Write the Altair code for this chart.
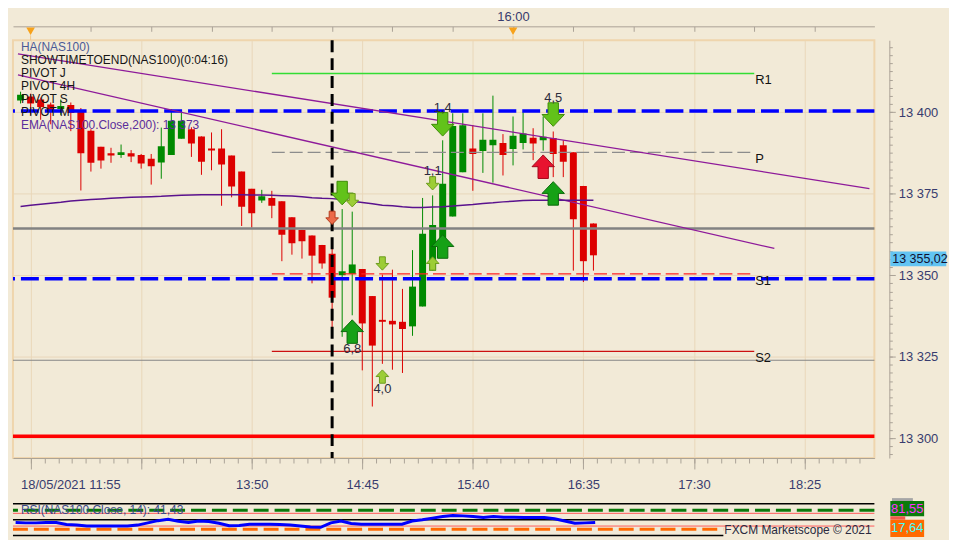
import altair as alt
import pandas as pd

# ---------------- values ----------------
candle_times = ["11:55", "12:00", "12:05", "12:10", "12:15", "12:20", "12:25", "12:30", "12:35", "12:40",
                "12:45", "12:50", "12:55", "13:00", "13:05", "13:10", "13:15", "13:20", "13:25", "13:30",
                "13:35", "13:40", "13:45", "13:50", "13:55", "14:00", "14:05", "14:10", "14:15", "14:20",
                "14:25", "14:30", "14:35", "14:40", "14:45", "14:50", "14:55", "15:00", "15:05", "15:10",
                "15:15", "15:20", "15:25", "15:30", "15:35", "15:40", "15:45", "15:50", "15:55", "16:00",
                "16:05", "16:10", "16:15", "16:20", "16:25", "16:30", "16:35", "16:40"]
ha_open = [13403.6, 13404.8, 13403.9, 13402.4, 13401.0, 13402.2, 13400.7, 13394.3, 13389.4, 13387.4,
           13386.9, 13387.4, 13386.9, 13385.7, 13384.6, 13386.9, 13391.9, 13394.8, 13392.6, 13388.9,
           13388.9, 13386.7, 13381.8, 13376.5, 13372.9, 13373.7, 13372.7, 13367.8, 13363.9, 13362.2,
           13359.3, 13356.6, 13350.0, 13350.4, 13351.9, 13343.6, 13336.3, 13336.0, 13335.7, 13334.3,
           13340.4, 13351.4, 13355.6, 13368.0, 13381.6, 13388.9, 13388.1, 13389.9, 13390.6, 13388.7,
           13390.6, 13392.2, 13391.4, 13392.1, 13389.9, 13387.7, 13377.4, 13365.9]
ha_high = [13406.3, 13405.7, 13404.5, 13403.0, 13403.9, 13403.0, 13401.3, 13394.8, 13389.4, 13389.1,
           13390.1, 13388.4, 13387.2, 13387.2, 13395.3, 13401.0, 13399.8, 13395.4, 13392.6, 13393.8,
           13394.8, 13386.7, 13381.8, 13376.5, 13376.2, 13375.9, 13372.7, 13367.8, 13363.9, 13362.2,
           13359.3, 13360.1, 13370.3, 13369.5, 13351.9, 13343.6, 13350.2, 13351.7, 13345.8, 13357.7,
           13373.7, 13374.5, 13391.4, 13399.7, 13399.7, 13396.1, 13399.7, 13405.1, 13393.3, 13398.7,
           13400.0, 13395.1, 13398.7, 13394.1, 13391.4, 13387.7, 13377.4, 13365.9]
ha_low = [13402.7, 13399.2, 13397.7, 13396.3, 13399.2, 13394.2, 13376.0, 13381.8, 13382.7, 13384.5,
          13386.0, 13384.7, 13382.7, 13377.8, 13379.6, 13386.9, 13391.9, 13386.3, 13380.8, 13382.2,
          13371.3, 13373.9, 13365.1, 13364.6, 13372.2, 13367.5, 13354.3, 13356.3, 13355.1, 13347.5,
          13352.0, 13331.6, 13331.1, 13337.7, 13320.8, 13309.7, 13322.8, 13321.0, 13320.0, 13331.4,
          13340.4, 13351.4, 13355.6, 13368.0, 13381.6, 13375.9, 13381.4, 13378.4, 13380.6, 13383.7,
          13388.6, 13385.3, 13388.2, 13380.1, 13380.1, 13351.4, 13347.9, 13351.4]
ha_close = [13405.4, 13402.7, 13401.6, 13400.1, 13401.9, 13399.8, 13387.4, 13384.5, 13385.2, 13386.7,
            13387.7, 13386.4, 13384.3, 13383.4, 13389.6, 13397.4, 13397.4, 13390.4, 13384.8, 13388.3,
            13384.0, 13377.2, 13371.0, 13369.0, 13374.2, 13371.3, 13362.4, 13359.8, 13360.4, 13356.0,
            13353.6, 13343.1, 13351.2, 13353.3, 13335.2, 13328.4, 13335.7, 13334.9, 13333.5, 13346.5,
            13362.7, 13365.4, 13378.1, 13395.8, 13396.0, 13387.2, 13391.6, 13391.6, 13386.9, 13392.8,
            13393.5, 13390.4, 13392.5, 13387.2, 13384.8, 13367.2, 13354.3, 13356.1]
ema_200 = [13371.1, 13371.5, 13371.8, 13372.1, 13372.4, 13372.8, 13373.0, 13373.2, 13373.4, 13373.6,
           13373.8, 13373.9, 13374.0, 13374.1, 13374.2, 13374.4, 13374.5, 13374.6, 13374.7, 13374.7,
           13374.7, 13374.7, 13374.7, 13374.6, 13374.6, 13374.5, 13374.4, 13374.3, 13374.1, 13373.8,
           13373.6, 13373.5, 13373.2, 13372.7, 13372.3, 13371.9, 13371.5, 13371.3, 13371.0, 13370.8,
           13370.8, 13370.9, 13371.0, 13371.2, 13371.5, 13371.7, 13372.0, 13372.2, 13372.5, 13372.7,
           13372.9, 13373.0, 13373.0, 13373.0, 13373.0, 13373.0, 13373.0, 13373.0]
rsi_14 = [41, 40, 40, 41, 41, 35, 33, 30, 30, 30,
          30, 30, 33, 40, 47, 51, 45, 41, 46, 44,
          39, 31, 32, 36, 36, 36, 35, 33, 30, 27,
          26, 40, 46, 38, 36, 36, 36, 36, 36, 46,
          50, 55, 60, 63, 62, 60, 57, 60, 58, 58,
          57, 57, 57, 53, 46, 39, 40, 41.43]

blue_level_prices = [13400.4, 13348.9]
grey_thick_prices = [13364.3]
grey_thin_prices = [13323.9]
red_thick_prices = [13300.6]

pivot_names = ["R1", "P", "S1", "S2"]
pivot_prices = [13411.9, 13387.7, 13350.4, 13326.6]
pivot_span = ["14:00", "18:00"]

session_line_times = ["14:30"]
session_marker_times = ["12:00", "16:00"]

trend_a_times = ["11:53:42", "18:57:18"]
trend_a_prices = [13417.9, 13376.6]
trend_b_times = ["11:53:42", "18:10"]
trend_b_prices = [13411.5, 13358.2]

arrow_times = ["14:35", "14:40", "14:30", "14:40", "14:55", "14:55", "15:20", "15:20", "15:25", "15:25",
               "16:15", "16:20", "16:20"]
arrow_prices = [13375.2, 13373.0, 13367.6, 13332.7, 13353.6, 13318.9, 13378.2, 13353.6, 13358.8, 13396.3,
                13383.3, 13375.1, 13399.3]
arrow_dirs = ["down", "down", "down", "up", "down", "up", "down", "up", "up", "down", "up", "up", "down"]
arrow_kinds = ["lime", "light", "orange", "green", "light", "light", "light", "light", "green", "lime",
               "red", "green", "lime"]

signal_texts = ["6,8", "4,0", "1,1", "1,4", "4,5"]
signal_times = ["14:40", "14:55", "15:20", "15:25", "16:20"]
signal_prices = [13327.2, 13315.1, 13381.9, 13401.3, 13404.5]

last_price = 13355.02
legend_lines = ["HA(NAS100)", "SHOWTIMETOEND(NAS100)(0:04:16)", "PIVOT J", "PIVOT 4H", "PIVOT S",
                "PIVOT M", "EMA(NAS100.Close,200): 13 373"]
rsi_title = "RSI(NAS100.Close, 14): 41,43"
copyright_text = "FXCM Marketscope \u00a9 2021"
rsi_box_texts = ["81,55", "17,64"]

rsi_black_full = [100, 50]
rsi_black_part = [0]
rsi_over = [80]
rsi_red = [70, 30]
rsi_under = [20]

date_label = "18/05/2021 11:55"
x_label_times = ["11:55", "13:50", "14:45", "15:40", "16:35", "17:30", "18:25"]
x_major_times = ["12:00", "12:55", "13:50", "14:45", "15:40", "16:35", "17:30", "18:25"]
top_label_times = ["16:00"]
y_label_prices = [13300, 13325, 13350, 13375, 13400]
view_times = ["11:53:42", "18:57:18"]
view_prices = [13293.9, 13422.1]

# ---------------- helpers ----------------
BASE = 11 * 60 + 55


def hm(t):
    p = [int(v) for v in t.split(":")]
    return p[0] * 60 + p[1] + (p[2] / 60 if len(p) > 2 else 0) - BASE


W, H = 866, 420
HR = 32
BG = "#f2ead7"
GREEN = "#008a00"
RED = "#dd0000"
AXC = "#aaa296"
GRIDC = "#e9d7b9"
LABC = "#383c6e"
FRAME = "#efd5ad"
FONT = "Liberation Sans"
PURPLE = "#8e1a9a"

x_lab_vals = [hm(t) for t in x_label_times]
x_major_vals = [hm(t) for t in x_major_times]
x_minor_vals = [hm("12:00") + k * 55 / 8 for k in range(61)]
top_tick_vals = [hm("12:30") + 30 * k for k in range(13)]
top_lab_vals = [hm(t) for t in top_label_times]
y_minor_vals = [13295 + 2.5 * k for k in range(51)]

hhmm = (f"format(floor((datum.value+{BASE})/60),'02d') + ':' + "
        f"format((datum.value+{BASE})%60,'02d')")

xs = alt.Scale(domain=[hm(view_times[0]), hm(view_times[1])], nice=False, zero=False)
ys = alt.Scale(domain=view_prices, nice=False, zero=False)

ax_xlab = alt.Axis(orient="bottom", values=x_lab_vals, ticks=False, labelExpr=f"datum.value == 0 ? '{date_label}' : " + hhmm,
                   labelAlign={"condition": {"test": "datum.value == 0", "value": "left"}, "value": "center"},
                   labelPadding=21, labelFont=FONT, labelFontSize=13, labelColor=LABC, labelOverlap=False,
                   labelFlush=False, domain=True, domainColor=AXC, grid=False, title=None)
ax_xmaj = alt.Axis(orient="bottom", values=x_major_vals, tickSize=11, tickColor=AXC, labels=False, domain=False,
                   grid=True, gridColor=GRIDC, title=None)
ax_xmin = alt.Axis(orient="bottom", values=x_minor_vals, tickSize=5, tickColor=AXC, labels=False, domain=False,
                   grid=False, title=None)
ax_top1 = alt.Axis(orient="top", offset=14, values=top_lab_vals, ticks=False, labelExpr=hhmm, labelPadding=3,
                   labelFont=FONT, labelFontSize=13, labelColor=LABC, labelFlush=False, domain=True, domainColor=AXC,
                   grid=False, title=None)
ax_top2 = alt.Axis(orient="top", offset=9, values=top_tick_vals, tickSize=5, tickColor=AXC, labels=False,
                   domain=False, grid=False, title=None)
ax_ylab = alt.Axis(orient="right", offset=15, values=y_label_prices, tickSize=6, tickColor=AXC,
                   labelExpr="replace(format(datum.value, ','), ',', ' ')", labelPadding=3, labelFont=FONT,
                   labelFontSize=13, labelColor=LABC, domain=True, domainColor=AXC, grid=True, gridColor=GRIDC,
                   labelFlush=False, title=None)
ax_ymin = alt.Axis(orient="right", offset=15, values=y_minor_vals, tickSize=3, tickColor=AXC, labels=False,
                   domain=False, grid=False, title=None)

# ---------------- main pane ----------------
cdf = pd.DataFrame({"t": [hm(t) for t in candle_times], "open": ha_open, "high": ha_high,
                    "low": ha_low, "close": ha_close, "ema": ema_200})
col = alt.condition("datum.close >= datum.open", alt.value(GREEN), alt.value(RED))


def hrule(values, color, width, dash=None):
    kw = dict(color=color, strokeWidth=width)
    if dash:
        kw["strokeDash"] = dash
    return alt.Chart(pd.DataFrame({"p": values})).mark_rule(**kw).encode(
        y=alt.Y("p:Q", scale=ys, axis=None))


red_thick = hrule(red_thick_prices, "#ff0000", 3.5)
grey_thin = hrule(grey_thin_prices, "#858585", 1)
grey_thick = hrule(grey_thick_prices, "#828282", 2.5)
blue_lines = hrule(blue_level_prices, "#0000ff", 3.5, [18, 6])

pdf = pd.DataFrame({"name": pivot_names, "p": pivot_prices,
                    "t0": hm(pivot_span[0]), "t1": hm(pivot_span[1])})
pivot_lines = alt.Chart(pdf).mark_rule(strokeWidth=1.3).encode(
    x=alt.X("t0:Q", scale=xs, axis=None), x2="t1:Q",
    y=alt.Y("p:Q", scale=ys, axis=None),
    color=alt.Color("name:N", scale=alt.Scale(domain=pivot_names,
                                              range=["#33dd33", "#8c8c8c", "#ff2020", "#cc1010"]), legend=None),
    strokeDash=alt.StrokeDash("name:N", scale=alt.Scale(domain=pivot_names,
                                                        range=[[1, 0], [13, 5], [13, 5], [1, 0]]), legend=None))
pivot_labels = alt.Chart(pdf).mark_text(align="left", baseline="top", dx=1, dy=1, font=FONT, fontSize=13,
                                        color="#111111").encode(
    x=alt.X("t1:Q", scale=xs, axis=None), y=alt.Y("p:Q", scale=ys, axis=None), text="name:N")

wicks = alt.Chart(cdf).mark_rule(strokeWidth=1, clip=True).encode(
    x=alt.X("t:Q", scale=xs, axis=ax_xlab),
    y=alt.Y("low:Q", scale=ys, axis=ax_ylab), y2="high:Q", color=col)
bodies = alt.Chart(cdf).mark_bar(size=7, clip=True).encode(
    x=alt.X("t:Q", scale=xs, axis=ax_xmaj),
    y=alt.Y("open:Q", scale=ys, axis=ax_ymin), y2="close:Q", color=col)

ema_line = alt.Chart(cdf).mark_line(color="#5a128e", strokeWidth=1.5).encode(
    x=alt.X("t:Q", scale=xs, axis=ax_top1), y=alt.Y("ema:Q", scale=ys, axis=None))
trend_a = alt.Chart(pd.DataFrame({"t": [hm(t) for t in trend_a_times], "p": trend_a_prices})).mark_line(
    color=PURPLE, strokeWidth=1.3, clip=True).encode(
    x=alt.X("t:Q", scale=xs, axis=ax_top2), y=alt.Y("p:Q", scale=ys, axis=None))
trend_b = alt.Chart(pd.DataFrame({"t": [hm(t) for t in trend_b_times], "p": trend_b_prices})).mark_line(
    color=PURPLE, strokeWidth=1.3, clip=True).encode(
    x=alt.X("t:Q", scale=xs, axis=ax_xmin), y=alt.Y("p:Q", scale=ys, axis=None))

vline = alt.Chart(pd.DataFrame({"t": [hm(t) for t in session_line_times]})).mark_rule(
    color="#000000", strokeWidth=3, strokeDash=[12, 6]).encode(x=alt.X("t:Q", scale=xs, axis=None))

sdf = pd.DataFrame({"t": [hm(t) for t in session_marker_times]})
tri = alt.Chart(sdf).mark_point(shape="triangle-down", filled=True, size=75, color="#f7a21b", opacity=1).encode(
    x=alt.X("t:Q", scale=xs, axis=None), y=alt.value(-9))
stem = alt.Chart(sdf).mark_rule(color="#f3c888", strokeWidth=1).encode(
    x=alt.X("t:Q", scale=xs, axis=None), y=alt.value(-5), y2=alt.value(0))

PD = "M-0.44,-1L0.44,-1L0.44,0L0.95,0L0,1L-0.95,0L-0.44,0Z"
PU = "M-0.44,1L0.44,1L0.44,0L0.95,0L0,-1L-0.95,0L-0.44,0Z"
kind_order = ["lime", "green", "red", "light", "orange"]
kind_fill = ["#62c21a", "#16a116", "#e8132f", "#9ccd36", "#ec6a48"]
kind_stroke = ["#3f8c08", "#0b6b0b", "#a1081b", "#6e9c1e", "#b43c1e"]
big_kinds = ["lime", "green", "red"]
small_kinds = ["light", "orange"]
adf = pd.DataFrame({"t": [hm(t) for t in arrow_times], "p": arrow_prices, "dir": arrow_dirs, "kind": arrow_kinds})


def arrow_layer(kinds, size):
    return alt.Chart(adf).transform_filter(
        alt.FieldOneOfPredicate(field="kind", oneOf=kinds)
    ).mark_point(filled=True, opacity=1, strokeWidth=1, size=size).encode(
        x=alt.X("t:Q", scale=xs, axis=None), y=alt.Y("p:Q", scale=ys, axis=None),
        shape=alt.Shape("dir:N", scale=alt.Scale(domain=["down", "up"], range=[PD, PU]), legend=None),
        fill=alt.Fill("kind:N", scale=alt.Scale(domain=kind_order, range=kind_fill), legend=None),
        stroke=alt.Stroke("kind:N", scale=alt.Scale(domain=kind_order, range=kind_stroke), legend=None))


arrows_big = arrow_layer(big_kinds, 560)
arrows_small = arrow_layer(small_kinds, 180)

sig = alt.Chart(pd.DataFrame({"t": [hm(t) for t in signal_times], "p": signal_prices, "txt": signal_texts})).mark_text(
    font=FONT, fontSize=13, color="#2c2c3c", baseline="middle").encode(
    x=alt.X("t:Q", scale=xs, axis=None), y=alt.Y("p:Q", scale=ys, axis=None), text="txt:N")

price_txt = f"{last_price:,.2f}".replace(",", " ").replace(".", ",")
pbd = pd.DataFrame({"p": [last_price], "txt": [price_txt]})
pbox = alt.Chart(pbd).mark_point(shape="M0,-1L7.5,-1L7.5,1L0,1Z", size=225, filled=True, opacity=1,
                                 color="#62c4f2").encode(x=alt.value(W + 16), y=alt.Y("p:Q", scale=ys, axis=None))
ptxt = alt.Chart(pbd).mark_text(align="left", baseline="middle", font=FONT, fontSize=12.5, color="#101030").encode(
    x=alt.value(W + 18), y=alt.Y("p:Q", scale=ys, axis=None), text="txt:N")


def ptext(txt, px, py, color, size=12, align="left"):
    return alt.Chart(pd.DataFrame({"txt": [txt]})).mark_text(
        align=align, baseline="middle", font=FONT, fontSize=size, color=color).encode(
        x=alt.value(px), y=alt.value(py), text="txt:N")


legend_colors = ["#4b5a96", "#161616", "#161616", "#161616", "#161616", "#161616", "#5b2d9b"]
legend_layers = [ptext(t, 8, 7 + 13 * i, c) for i, (t, c) in enumerate(zip(legend_lines, legend_colors))]

main = alt.layer(
    red_thick, grey_thin, wicks, bodies, grey_thick, pivot_lines, blue_lines, trend_a, trend_b, ema_line,
    vline, stem, tri, arrows_big, arrows_small, sig, pivot_labels, pbox, ptxt, *legend_layers
).properties(width=W, height=H).resolve_axis(x="independent", y="independent")

# ---------------- RSI pane ----------------
xr = alt.Scale(domain=[hm(view_times[0]), hm(view_times[1])], nice=False, zero=False)
yr = alt.Scale(domain=[0, 100], nice=False, zero=False)
PART = W * 729 / 884


def rrule(values, color, width, dash=None, part=False):
    kw = dict(color=color, strokeWidth=width)
    if dash:
        kw["strokeDash"] = dash
    enc = dict(y=alt.Y("v:Q", scale=yr, axis=None))
    if part:
        enc["x"] = alt.value(0)
        enc["x2"] = alt.value(PART)
    return alt.Chart(pd.DataFrame({"v": values})).mark_rule(**kw).encode(**enc)


rdf = pd.DataFrame({"t": [hm(t) for t in candle_times], "rsi": rsi_14})
rsi_line = alt.Chart(rdf).mark_line(color="#0000ff", strokeWidth=3).encode(
    x=alt.X("t:Q", scale=xr, axis=None),
    y=alt.Y("rsi:Q", scale=yr, axis=alt.Axis(orient="right", offset=11, values=[25, 50, 75, 100], tickSize=4,
                                             tickColor=AXC, labels=False, domain=False, grid=False, title=None)))


def rbox(x0, x1, y0, y1, color):
    return alt.Chart(pd.DataFrame({"a": [0]})).mark_rect(color=color).encode(
        x=alt.value(x0), x2=alt.value(x1), y=alt.value(y0), y2=alt.value(y1))


rsi = alt.layer(
    rrule(rsi_red, "#ff5a5a", 1),
    rrule(rsi_black_full, "#000000", 1.5),
    rrule(rsi_black_part, "#000000", 1.5, part=True),
    rrule(rsi_over, "#0a780a", 3, [15, 6]),
    rrule(rsi_under, "#ff6a00", 3, [15, 6], part=True),
    rsi_line,
    ptext(rsi_title, 8, 6, "#3a4a8a"),
    ptext(copyright_text, PART + 1, 26, "#2a2a40"),
    rbox(W + 17.7, W + 38.7, -5.7, -2.7, "#a6a6a6"),
    rbox(W + 16, W + 50, -2.7, 12.6, "#0b7a0b"),
    rbox(W + 16, W + 31, 12.6, 16, "#f05a4a"),
    rbox(W + 16, W + 50, 16, 33.3, "#ff6a00"),
    ptext(rsi_box_texts[0], W + 33, 5, "#ff33ff", 13, "center"),
    ptext(rsi_box_texts[1], W + 33, 24.7, "#44ffff", 13, "center"),
).properties(width=W, height=HR, view=alt.ViewBackground(stroke="transparent"))

chart = alt.vconcat(main, rsi, spacing=4).resolve_scale(x="independent", y="independent").properties(
    padding=0).configure(background=BG, font=FONT).configure_view(stroke=FRAME, strokeWidth=2)

chart.save("out.html", embed_options={"renderer": "svg", "actions": False})
